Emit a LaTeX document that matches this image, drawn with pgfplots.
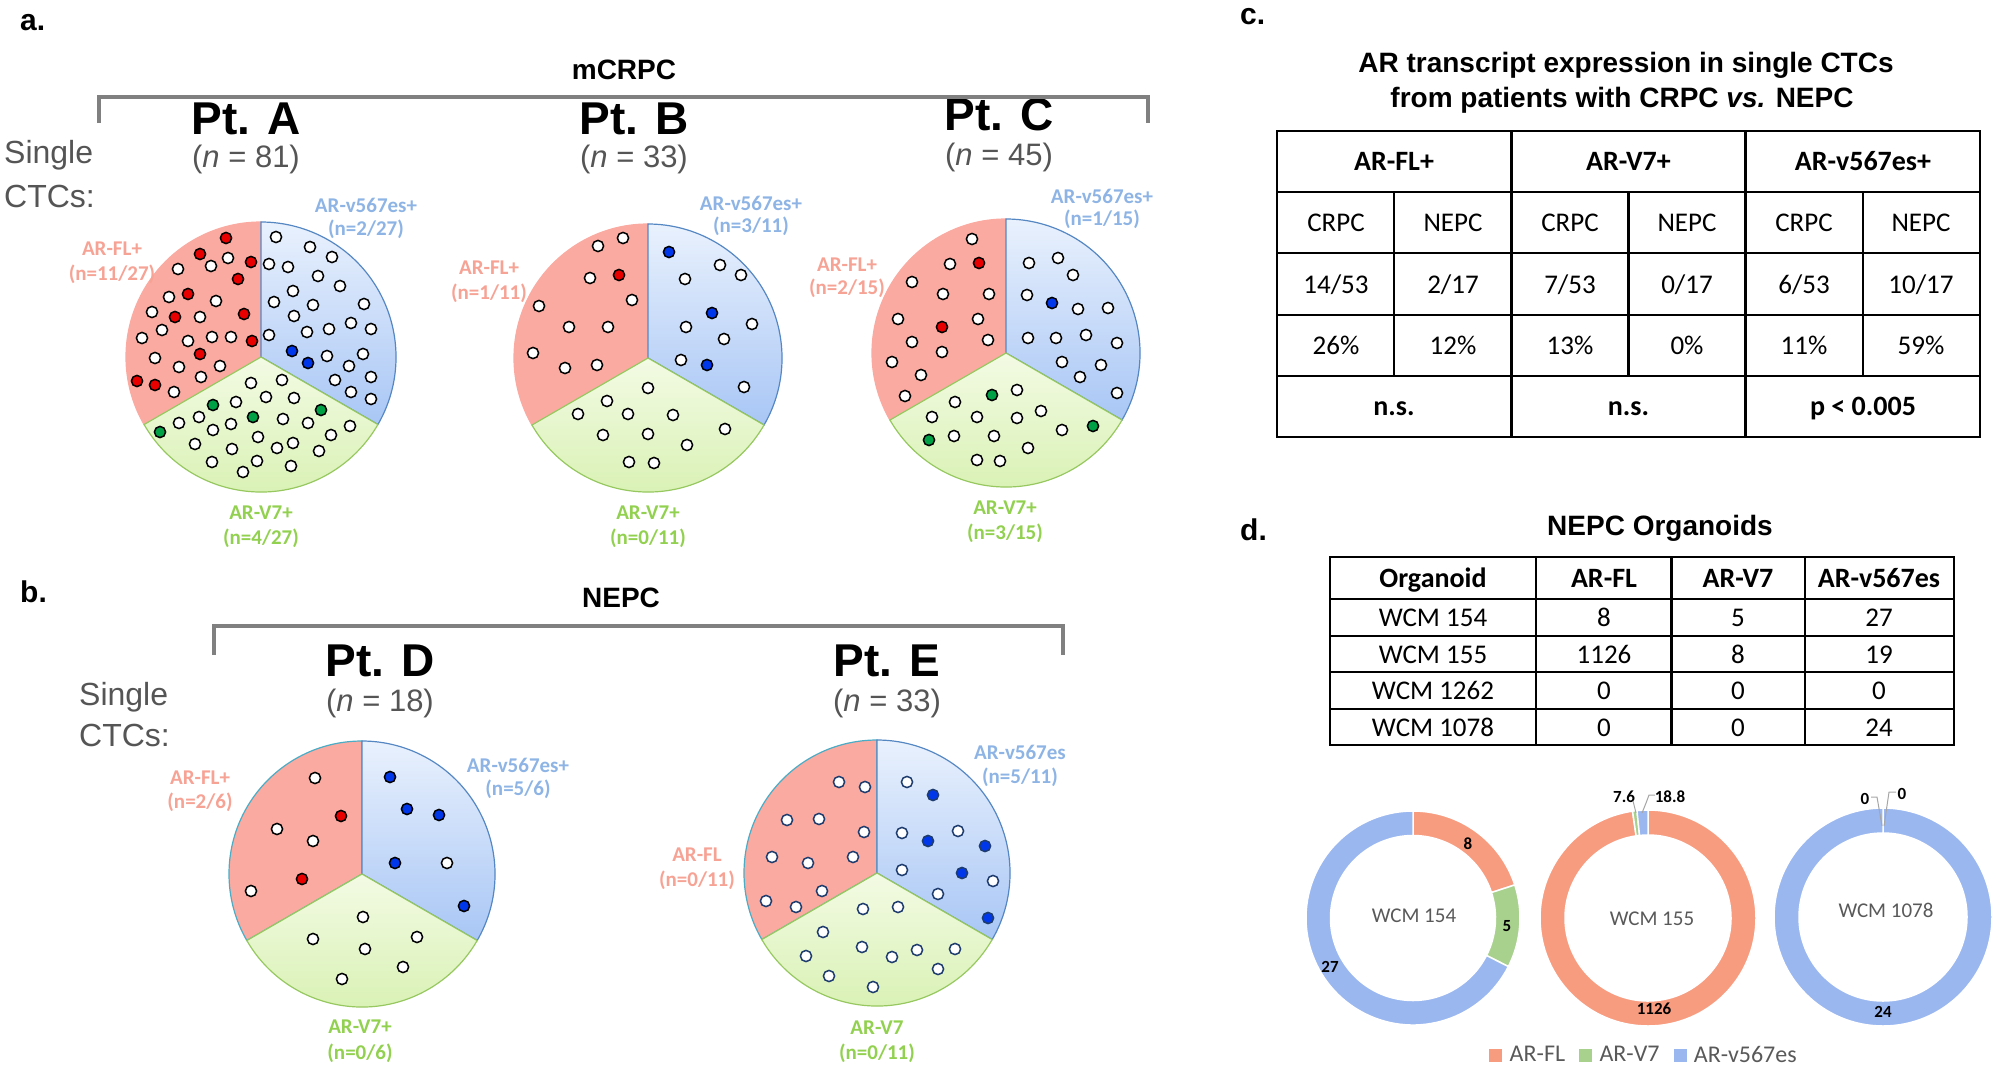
\documentclass[border=0pt]{standalone}
\usepackage{fontspec}
\setmainfont{Liberation Sans}
\newfontfamily\carl{Carlito}
\usepackage{pgfplots}
\pgfplotsset{compat=1.18}

\newcommand\fs[1]{\fontsize{#1}{#1}\selectfont}

\definecolor{pieRed}{RGB}{250,170,160}
\definecolor{blueTop}{RGB}{233,241,253}
\definecolor{blueBot}{RGB}{168,198,245}
\definecolor{blueEdge}{RGB}{85,135,195}
\definecolor{greenTop}{RGB}{243,251,228}
\definecolor{greenBot}{RGB}{214,240,175}
\definecolor{greenEdge}{RGB}{150,200,95}
\definecolor{cyanEdge}{RGB}{75,172,198}
\definecolor{dotRed}{RGB}{232,0,0}
\definecolor{dotBlue}{RGB}{0,55,235}
\definecolor{dotGreen}{RGB}{0,160,70}
\definecolor{navy}{RGB}{30,60,110}
\definecolor{txtRed}{RGB}{246,162,148}
\definecolor{txtBlue}{RGB}{141,180,228}
\definecolor{txtGreen}{RGB}{146,208,80}
\definecolor{nGray}{RGB}{85,85,85}
\definecolor{brGray}{RGB}{128,128,128}
\definecolor{legGray}{RGB}{89,89,89}
\definecolor{leadGray}{RGB}{166,166,166}
\definecolor{dFL}{RGB}{248,156,128}
\definecolor{dV7}{RGB}{169,209,142}
\definecolor{dV5}{RGB}{154,183,240}

% pie of three sectors, counts FL / V7 / v567es, starting at the top
\newcommand\pie[7]{\pgfplotsextra{%
  \pgfmathsetmacro\pieA{90}%
  \pgfmathsetmacro\pieB{90+360*(#4/(#4+#5+#6))}%
  \pgfmathsetmacro\pieC{\pieB+360*(#5/(#4+#5+#6))}%
  \pgfmathsetmacro\pieD{\pieC+360*(#6/(#4+#5+#6))}%
  \filldraw[fill=pieRed, draw=#7, line width=1.2pt] (axis cs:#1,#2) -- ++(\pieA:#3pt)
     arc[start angle=\pieA, end angle=\pieB, radius=#3pt] -- cycle;
  \shade[top color=blueTop, bottom color=blueBot, draw=blueEdge, line width=1.2pt] (axis cs:#1,#2) -- ++(\pieC:#3pt)
     arc[start angle=\pieC, end angle=\pieD, radius=#3pt] -- cycle;
  \shade[top color=greenTop, bottom color=greenBot, draw=greenEdge, line width=1.2pt] (axis cs:#1,#2) -- ++(\pieB:#3pt)
     arc[start angle=\pieB, end angle=\pieC, radius=#3pt] -- cycle;
}}

% ring segment: cx cy rout rin a1 a2 colour
\newcommand\seg[7]{%
  \filldraw[fill=#7, draw=white, line width=1.5pt] (axis cs:#1,#2) ++(#5:#3pt)
     arc[start angle=#5, end angle=#6, radius=#3pt] -- ++({#6+180}:{#3pt-#4pt})
     arc[start angle=#6, end angle=#5, radius=#4pt] -- cycle;}

% donut, clockwise from the top: FL, V7, v567es
\newcommand\donut[7]{\pgfplotsextra{%
  \pgfmathsetmacro\dnA{90}%
  \pgfmathsetmacro\dnB{90-360*(#5/(#5+#6+#7))}%
  \pgfmathsetmacro\dnC{\dnB-360*(#6/(#5+#6+#7))}%
  \pgfmathsetmacro\dnD{\dnC-360*(#7/(#5+#6+#7))}%
  \seg{#1}{#2}{#3}{#4}{\dnA}{\dnB}{dFL}%
  \seg{#1}{#2}{#3}{#4}{\dnB}{\dnC}{dV7}%
  \seg{#1}{#2}{#3}{#4}{\dnC}{\dnD}{dV5}%
}}

\newcommand\plab[6]{%
  \node[font=\carl\bfseries\fs{21}, text=#4, inner sep=0pt] at (axis cs:#1,#2) {#5};
  \node[font=\carl\bfseries\fs{21}, text=#4, inner sep=0pt] at (axis cs:#1,#3) {#6};}

\newcommand\ptitle[5]{%
  \node[font=\bfseries\fs{46}, inner sep=0pt] at (axis cs:#1,#2) {#4};
  \node[font=\fs{31}, text=nGray, inner sep=0pt] at (axis cs:#1,#3) {(\textit{n} = #5)};}

\newcommand\hl[3]{\draw[tbl] (axis cs:#1,#3) -- (axis cs:#2,#3);}
\newcommand\vl[3]{\draw[tbl] (axis cs:#1,#2) -- (axis cs:#1,#3);}

\tikzset{
  cell/.style={font=\carl\fs{27}, inner sep=0pt, text height=18pt, text depth=0pt},
  hcell/.style={cell, font=\carl\bfseries\fs{28}},
  tbl/.style={line width=2.4pt, black},
  leader/.style={leadGray, line width=1pt},
  side/.style={font=\fs{32}, text=nGray, anchor=west, inner sep=0pt},
}

\begin{document}
\begin{tikzpicture}[x=1pt,y=1pt]
\begin{axis}[
  at={(0,0)}, anchor=south west,
  width=1996pt, height=1066pt, scale only axis,
  xmin=0, xmax=1996, ymin=0, ymax=1066, y dir=reverse,
  hide axis, clip=false,
  legend style={at={(axis cs:1644,1055)}, anchor=center, draw=none, fill=none,
    legend columns=-1, font=\carl\fs{24}, text=legGray,
    /tikz/every odd column/.append style={column sep=6pt},
    /tikz/every even column/.append style={column sep=12pt}},
  legend cell align=left,
]
\addlegendimage{legend image code/.code={\fill[dFL] (0pt,-6pt) rectangle (12pt,6pt);}}
\addlegendentry{AR-FL}
\addlegendimage{legend image code/.code={\fill[dV7] (0pt,-6pt) rectangle (12pt,6pt);}}
\addlegendentry{AR-V7}
\addlegendimage{legend image code/.code={\fill[dV5] (0pt,-6pt) rectangle (12pt,6pt);}}
\addlegendentry{AR-v567es}

% ---------- pies (counts per sector) ----------
\pie{261}{357}{135}{27}{27}{27}{pieRed}
\pie{648}{358}{134}{11}{11}{11}{pieRed}
\pie{1006}{353}{134}{15}{15}{15}{pieRed}
\pie{362}{874}{133}{6}{6}{6}{cyanEdge}
\pie{877}{873}{133}{11}{11}{11}{cyanEdge}

% ---------- single CTCs ----------
\addplot[forget plot, only marks, mark=*, mark size=5.6pt, mark options={fill=white, draw=black, line width=1.5pt}] coordinates {
(228,258) (211,266) (178,269) (169,297) (216,301) (152,312) (200,317) (162,330) (142,338) (188,341) (212,337) (231,337) (155,358) (179,367) (220,366) (201,377) (174,392)
(276,237) (310,247) (332,257) (269,264) (288,267) (318,276) (340,286) (293,291) (274,302) (313,305) (364,304) (294,316) (351,323) (371,329) (269,335) (307,332) (329,329) (327,356) (363,354) (349,366) (335,380) (371,377) (351,392) (371,399)
(251,383) (282,380) (236,402) (266,397) (294,398) (199,417) (283,419) (308,423) (350,426) (179,423) (213,430) (231,424) (258,437) (331,435) (195,444) (232,449) (277,448) (293,443) (319,451) (212,462) (257,461) (243,472) (291,466)
(598,246) (623,238) (590,278) (632,300) (539,306) (569,327) (608,327) (533,353) (565,368) (597,365)
(720,265) (741,275) (685,279) (752,324) (686,327) (724,339) (681,360) (744,387)
(648,388) (607,401) (578,414) (628,414) (673,415) (603,435) (648,434) (725,429) (687,445) (629,462) (654,463)
(972,239) (950,264) (912,282) (943,294) (989,294) (898,319) (978,319) (912,342) (988,340) (942,352) (892,362) (921,375) (905,396)
(1029,263) (1058,258) (1073,275) (1027,295) (1078,309) (1108,308) (1028,338) (1056,338) (1086,335) (1117,343) (1062,362) (1101,365) (1080,377) (1117,393)
(1017,390) (955,402) (1041,411) (932,417) (977,417) (1017,418) (1062,430) (954,436) (994,436) (1028,448) (977,460) (1000,461)
(315,778) (277,829) (313,841) (251,891) (447,863) (363,917) (313,939) (365,949) (417,937) (403,967) (342,979)
};
\addplot[forget plot, only marks, mark=*, mark size=5.6pt, mark options={fill=dotRed, draw=black, line width=1.5pt}] coordinates {
(226,238) (200,254) (251,262) (238,279) (188,294) (175,317) (244,314) (252,341) (200,354) (137,381) (155,385)
(619,275) (979,263) (942,327) (341,816) (302,879)
};
\addplot[forget plot, only marks, mark=*, mark size=5.6pt, mark options={fill=dotBlue, draw=black, line width=1.5pt}] coordinates {
(292,351) (308,363) (669,252) (712,313) (707,365) (1052,303)
(390,777) (407,809) (439,815) (395,863) (464,906)
};
\addplot[forget plot, only marks, mark=*, mark size=5.6pt, mark options={fill=dotGreen, draw=black, line width=1.5pt}] coordinates {
(213,405) (321,410) (253,417) (160,432) (992,395) (1093,426) (929,440)
};
\addplot[forget plot, only marks, mark=*, mark size=5.6pt, mark options={fill=white, draw=navy, line width=1.5pt}] coordinates {
(839,782) (865,787) (787,820) (819,819) (864,832) (772,857) (808,863) (853,857) (822,891) (766,901) (796,907)
(907,782) (902,833) (958,831) (902,870) (993,881) (938,894)
(863,909) (898,907) (823,932) (862,947) (806,956) (892,957) (917,950) (955,949) (938,969) (829,976) (873,987)
};
\addplot[forget plot, only marks, mark=*, mark size=5.6pt, mark options={fill=dotBlue, draw=navy, line width=1.5pt}] coordinates {
(933,795) (928,841) (985,846) (962,873) (988,918)
};

% ---------- pie labels ----------
\plab{112}{249}{274}{txtRed}{AR-FL+}{(n=11/27)}
\plab{366}{205}{229}{txtBlue}{AR-v567es+}{(n=2/27)}
\plab{261}{513}{538}{txtGreen}{AR-V7+}{(n=4/27)}
\plab{489}{268}{293}{txtRed}{AR-FL+}{(n=1/11)}
\plab{751}{203}{226}{txtBlue}{AR-v567es+}{(n=3/11)}
\plab{648}{513}{538}{txtGreen}{AR-V7+}{(n=0/11)}
\plab{847}{265}{288}{txtRed}{AR-FL+}{(n=2/15)}
\plab{1102}{196}{219}{txtBlue}{AR-v567es+}{(n=1/15)}
\plab{1005}{508}{533}{txtGreen}{AR-V7+}{(n=3/15)}
\plab{200}{778}{802}{txtRed}{AR-FL+}{(n=2/6)}
\plab{518}{765}{789}{txtBlue}{AR-v567es+}{(n=5/6)}
\plab{360}{1027}{1053}{txtGreen}{AR-V7+}{(n=0/6)}
\plab{697}{855}{880}{txtRed}{AR-FL}{(n=0/11)}
\plab{1020}{752}{777}{txtBlue}{AR-v567es}{(n=5/11)}
\plab{877}{1028}{1053}{txtGreen}{AR-V7}{(n=0/11)}

% ---------- titles ----------
\ptitle{246}{119}{159}{Pt. A}{81}
\ptitle{634}{119}{159}{Pt. B}{33}
\ptitle{999}{115}{157}{Pt. C}{45}
\ptitle{380}{661}{703}{Pt. D}{18}
\ptitle{887}{661}{703}{Pt. E}{33}

\node[side] at (axis cs:4,155) {Single};
\node[side] at (axis cs:4,196) {CTCs:};
\node[side] at (axis cs:79,697) {Single};
\node[side] at (axis cs:79,735) {CTCs:};

\node[font=\bfseries\fs{30}, anchor=base west, inner sep=0pt] at (axis cs:20,30) {a.};
\node[font=\bfseries\fs{30}, anchor=base west, inner sep=0pt] at (axis cs:20,602) {b.};
\node[font=\bfseries\fs{30}, anchor=base west, inner sep=0pt] at (axis cs:1240,24) {c.};
\node[font=\bfseries\fs{30}, anchor=base west, inner sep=0pt] at (axis cs:1240,540) {d.};

\node[font=\bfseries\fs{28}] at (axis cs:624,70) {mCRPC};
\draw[brGray, line width=4pt] (axis cs:99,123) -- (axis cs:99,97) -- (axis cs:1148,97) -- (axis cs:1148,123);
\node[font=\bfseries\fs{28}] at (axis cs:621,598) {NEPC};
\draw[brGray, line width=4pt] (axis cs:214,655) -- (axis cs:214,626) -- (axis cs:1063,626) -- (axis cs:1063,655);

% ---------- table c ----------
\node[font=\bfseries\fs{28}] at (axis cs:1626,65) {AR transcript expression in single CTCs};
\node[font=\bfseries\fs{28}] at (axis cs:1622,100) {from patients with CRPC \textit{vs.} NEPC};
\draw[tbl] (axis cs:1277,131) rectangle (axis cs:1980,437);
\hl{1277}{1980}{192} \hl{1277}{1980}{253} \hl{1277}{1980}{315} \hl{1277}{1980}{376}
\vl{1511.3}{131}{437} \vl{1745.6}{131}{437}
\vl{1394.2}{192}{376} \vl{1628.5}{192}{376} \vl{1862.8}{192}{376}
\node[hcell] at (axis cs:1394,161.5) {AR-FL+};
\node[hcell] at (axis cs:1628.5,161.5) {AR-V7+};
\node[hcell] at (axis cs:1863,161.5) {AR-v567es+};
\node[cell] at (axis cs:1336,222.5) {CRPC};
\node[cell] at (axis cs:1453,222.5) {NEPC};
\node[cell] at (axis cs:1570,222.5) {CRPC};
\node[cell] at (axis cs:1687,222.5) {NEPC};
\node[cell] at (axis cs:1804,222.5) {CRPC};
\node[cell] at (axis cs:1921,222.5) {NEPC};
\node[cell] at (axis cs:1336,284) {14/53};
\node[cell] at (axis cs:1453,284) {2/17};
\node[cell] at (axis cs:1570,284) {7/53};
\node[cell] at (axis cs:1687,284) {0/17};
\node[cell] at (axis cs:1804,284) {6/53};
\node[cell] at (axis cs:1921,284) {10/17};
\node[cell] at (axis cs:1336,345.5) {26\%};
\node[cell] at (axis cs:1453,345.5) {12\%};
\node[cell] at (axis cs:1570,345.5) {13\%};
\node[cell] at (axis cs:1687,345.5) {0\%};
\node[cell] at (axis cs:1804,345.5) {11\%};
\node[cell] at (axis cs:1921,345.5) {59\%};
\node[hcell] at (axis cs:1394,406.5) {n.s.};
\node[hcell] at (axis cs:1628.5,406.5) {n.s.};
\node[hcell] at (axis cs:1863,406.5) {p < 0.005};

% ---------- table d ----------
\node[font=\bfseries\fs{28}] at (axis cs:1660,528) {NEPC Organoids};
\draw[tbl] (axis cs:1330,557) rectangle (axis cs:1954,745);
\hl{1330}{1954}{599} \hl{1330}{1954}{636} \hl{1330}{1954}{672} \hl{1330}{1954}{709}
\vl{1536}{557}{745} \vl{1671.5}{557}{745} \vl{1805}{557}{745}
\node[hcell] at (axis cs:1433,578) {Organoid};
\node[hcell] at (axis cs:1604,578) {AR-FL};
\node[hcell] at (axis cs:1738,578) {AR-V7};
\node[hcell] at (axis cs:1879,578) {AR-v567es};
\node[cell] at (axis cs:1433,617.5) {WCM 154};
\node[cell] at (axis cs:1604,617.5) {8};
\node[cell] at (axis cs:1738,617.5) {5};
\node[cell] at (axis cs:1879,617.5) {27};
\node[cell] at (axis cs:1433,654) {WCM 155};
\node[cell] at (axis cs:1604,654) {1126};
\node[cell] at (axis cs:1738,654) {8};
\node[cell] at (axis cs:1879,654) {19};
\node[cell] at (axis cs:1433,690.5) {WCM 1262};
\node[cell] at (axis cs:1604,690.5) {0};
\node[cell] at (axis cs:1738,690.5) {0};
\node[cell] at (axis cs:1879,690.5) {0};
\node[cell] at (axis cs:1433,727) {WCM 1078};
\node[cell] at (axis cs:1604,727) {0};
\node[cell] at (axis cs:1738,727) {0};
\node[cell] at (axis cs:1879,727) {24};

% ---------- donuts ----------
\donut{1413}{918}{107}{82.5}{8}{5}{27}
\donut{1648}{918}{108}{83}{1126}{7.6}{18.8}
\donut{1883}{917}{109}{84}{0}{0}{24}

\node[font=\carl\fs{21}, text=legGray] at (axis cs:1414,916) {WCM 154};
\node[font=\carl\fs{21}, text=legGray] at (axis cs:1652,919) {WCM 155};
\node[font=\carl\fs{21}, text=legGray] at (axis cs:1886,910) {WCM 1078};

\node[font=\carl\bfseries\fs{17}] at (axis cs:1468,844) {8};
\node[font=\carl\bfseries\fs{17}] at (axis cs:1507,926) {5};
\node[font=\carl\bfseries\fs{17}] at (axis cs:1330,967) {27};
\node[font=\carl\bfseries\fs{17}] at (axis cs:1654,1009) {1126};
\node[font=\carl\bfseries\fs{17}] at (axis cs:1883,1012) {24};
\node[font=\carl\bfseries\fs{17}] at (axis cs:1624,797) {7.6};
\node[font=\carl\bfseries\fs{17}] at (axis cs:1670,797) {18.8};
\node[font=\carl\bfseries\fs{17}] at (axis cs:1865,799) {0};
\node[font=\carl\bfseries\fs{17}] at (axis cs:1902,794) {0};
\draw[leader] (axis cs:1633,801) -- (axis cs:1636,813);
\draw[leader] (axis cs:1655,795) -- (axis cs:1649,795) -- (axis cs:1646,803) -- (axis cs:1642,813);
\draw[leader] (axis cs:1871,797) -- (axis cs:1877,797) -- (axis cs:1882,826);
\draw[leader] (axis cs:1896,792) -- (axis cs:1889,792) -- (axis cs:1884,826);
\end{axis}
\pgfresetboundingbox
\path[use as bounding box] (0,0) rectangle (1996,1066);
\end{tikzpicture}
\end{document}
